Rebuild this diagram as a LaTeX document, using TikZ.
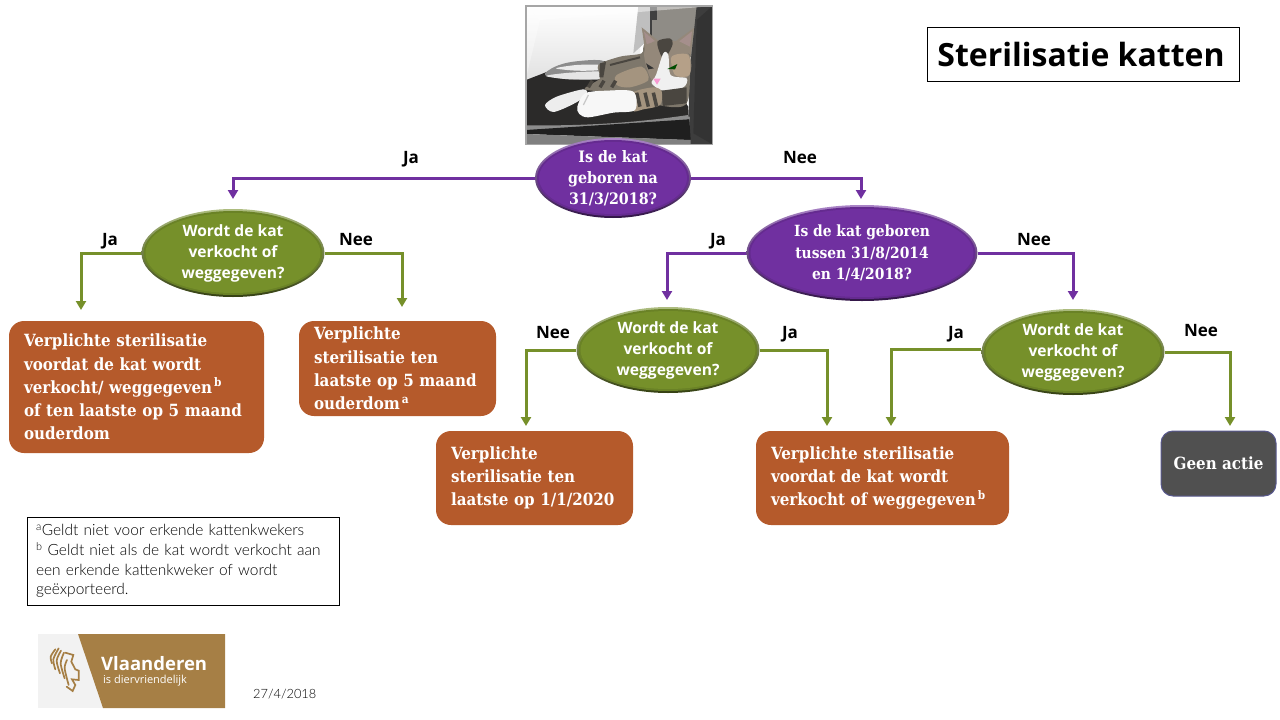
\documentclass[tikz,border=0pt]{standalone}
\usepackage{fontspec}
\setmainfont{Open Sans}
\newfontfamily\slabfont{DejaVu Serif}[FakeStretch=0.9]
\newfontfamily\notefont{Lato Light}
\usetikzlibrary{shapes.geometric,arrows.meta,calc}
\definecolor{katpaars}{HTML}{7030A0}
\definecolor{katgroen}{HTML}{76902A}
\definecolor{katbruin}{HTML}{B55A2B}
\definecolor{katgrijs}{HTML}{505050}
\definecolor{vlgoud}{HTML}{A67F45}
\definecolor{vacht}{HTML}{7E776B}
\definecolor{kopkleur}{HTML}{94887A}
\definecolor{wang}{HTML}{B5A088}
\definecolor{streep}{HTML}{4A4640}
\definecolor{leder}{HTML}{2B2A29}
\definecolor{paneel}{HTML}{8F8C86}
\definecolor{oorkleur}{HTML}{A58F8C}
\tikzset{
  bevel/.style={shade,top color=#1!60!white,bottom color=#1!45!black,path picture={
    \fill[#1!90!black] let \p1=(path picture bounding box.north east),\p2=(path picture bounding box.center) in (\p2) ellipse [x radius=\x1-\x2-2pt,y radius=\y1-\y2-2pt];
    \fill[#1] let \p1=(path picture bounding box.north east),\p2=(path picture bounding box.center) in (\p2) ellipse [x radius=\x1-\x2-4pt,y radius=\y1-\y2-4pt];
  }},
  vraagpaars/.style={ellipse,bevel=katpaars,inner sep=-12pt,align=center,text=white,font=\slabfont\bfseries\fontsize{15.4}{23}\selectfont},
  vraaggroen/.style={ellipse,bevel=katgroen,inner sep=-12pt,minimum width=183pt,minimum height=88pt,align=center,text=white,font=\bfseries\fontsize{15.6}{21}\selectfont},
  besluit/.style={rectangle,rounded corners=15pt,fill=katbruin,text=white,align=left,inner xsep=15pt,inner ysep=0pt,font=\slabfont\bfseries\fontsize{16.8}{23.2}\selectfont},
  antwoord/.style={font=\fontsize{17}{20}\selectfont\bfseries,text=black,inner sep=0pt,text height=12pt,text depth=0pt},
  pijlpaars/.style={draw=katpaars,line width=3pt,-{Triangle[length=9pt,width=10pt]}},
  pijlgroen/.style={draw=katgroen,line width=3pt,-{Triangle[length=9pt,width=10pt]}}
}
\begin{document}
\begin{tikzpicture}[x=1pt,y=-1pt]
\useasboundingbox (0,0) rectangle (1280,720);
% foto van de kat
\begin{scope}[shift={(520,0)},scale=1/3]
\begin{scope}
\clip (18,18) rectangle (577,433);
\shade[top color=white,bottom color=black!12] (18,18) rectangle (360,250);
% stoel
\fill[black!25] (355,18) -- (395,18) -- (395,110) -- (340,160) -- cycle;
\fill[black!75] (390,18) rectangle (410,110);
\fill[paneel] (395,60) rectangle (530,170);
\fill[paneel] (410,18) rectangle (530,60);
\fill[black!76] (530,18) -- (577,18) -- (577,433) -- (510,433) -- (505,250) -- cycle;
\fill[leder] (18,240) -- (75,218) -- (140,190) -- (400,175) -- (505,320) -- (510,420) -- (18,400) -- cycle;
\fill[black!45] (18,376) .. controls (200,378) and (350,368) .. (505,345) -- (508,358) .. controls (350,382) and (200,390) .. (18,390) -- cycle;
\fill[black!88] (18,390) -- (508,358) -- (512,420) -- (18,402) -- cycle;
\fill[black!50] (18,402) -- (512,420) -- (512,433) -- (18,433) -- cycle;
% deken
\fill[black!45] plot[smooth cycle] coordinates {(75,225) (105,200) (160,185) (250,183) (260,235) (150,238)};
\fill[white!92!black] plot[smooth cycle] coordinates {(108,205) (170,195) (240,195) (235,210) (170,212)};
\fill[white!90!black] plot[smooth cycle] coordinates {(78,228) (150,218) (250,215) (250,235) (150,238)};
% lijf
\fill[vacht] plot[smooth cycle] coordinates {(195,268) (240,235) (235,195) (300,170) (365,160) (380,130) (500,130) (510,200) (500,310) (430,318) (300,280)};
\fill[wang!70!vacht] plot[smooth cycle] coordinates {(290,225) (365,200) (385,240) (330,262) (290,255)};
\fill[streep] (240,190) -- (258,186) -- (250,232) -- (238,232) -- cycle;
\draw[streep,line width=2pt] (270,195) -- (360,172);
% oren
\fill[kopkleur] (375,150) -- (365,82) -- (418,125) -- cycle;
\fill[kopkleur] (465,125) -- (522,84) -- (512,165) -- cycle;
\fill[oorkleur] (380,132) -- (372,95) -- (408,126) -- cycle;
\fill[oorkleur] (478,124) -- (516,94) -- (510,140) -- cycle;
% kop
\fill[kopkleur] plot[smooth cycle] coordinates {(372,160) (400,125) (470,125) (510,170) (508,225) (450,265) (395,240)};
\fill[wang] plot[smooth cycle] coordinates {(455,170) (505,165) (508,225) (465,225)};
\fill[streep] plot[smooth cycle] coordinates {(412,125) (450,115) (458,132) (442,165) (425,170)};
\fill[white!94!black] plot[smooth cycle] coordinates {(430,160) (445,165) (452,225) (500,235) (490,262) (430,272) (395,250) (408,225)};
\fill[black!70!green] (442,207) -- (472,192) -- (465,208) -- cycle;
\fill[black!80] (378,190) -- (402,205) -- (385,208) -- cycle;
\fill[magenta!40!white] (400,236) -- (422,236) -- (411,254) -- cycle;
\foreach \strx in {205,240,275}{
  \draw[streep,line width=3.5pt] (\strx,262) -- ++(12,-20);
}
\fill[streep] (425,272) -- (500,262) -- (500,310) -- (428,318) -- cycle;
% poten
\fill[white!93!black] plot[smooth cycle] coordinates {(75,315) (110,290) (190,268) (200,285) (160,312) (100,336)};
\fill[wang!70!vacht] plot[smooth cycle] coordinates {(335,280) (400,262) (425,275) (420,315) (370,328) (338,332)};
\foreach \strx in {350,375,400}{
  \draw[streep,line width=3.5pt] (\strx,278) -- ++(10,42);
}
\fill[white!97!black] plot[smooth cycle] coordinates {(172,320) (195,280) (260,272) (340,275) (345,330) (280,338) (205,352) (178,342)};
\draw[black!22,line width=1.2pt] (205,285) -- (190,315);
\end{scope}
% rand
\fill[white,opacity=.45] (18,18) -- (577,18) -- (530,22) -- (60,60) -- cycle;
\fill[white,opacity=.35] (18,18) -- (60,60) -- (18,235) -- cycle;
\fill[black,opacity=.15] (577,18) -- (530,60) -- (520,400) -- (577,433) -- cycle;
\draw[black!35,line width=1.5pt] (18,18) rectangle (577,433);
\end{scope}
% titel
\node[rectangle,draw=black,line width=.8pt,minimum width=312pt,minimum height=54pt,font=\bfseries\fontsize{32}{36}\selectfont] (titel) at (1083,54) {\hspace{-4pt}Sterilisatie katten};
% vragen
\node[vraagpaars,minimum width=156pt,minimum height=80pt,font=\slabfont\bfseries\fontsize{15.8}{21}\selectfont] (kat1) at (613,178) {Is de kat\\geboren na\\31/3/2018?};
\node[vraaggroen] (kat2) at (233,253) {Wordt de kat\\verkocht of\\weggegeven?};
\node[vraagpaars,minimum width=231pt,minimum height=96pt,font=\slabfont\bfseries\fontsize{15.4}{21.5}\selectfont] (kat3) at (862,253) {Is de kat geboren\\tussen 31/8/2014\\en 1/4/2018?};
\node[vraaggroen,minimum height=86pt] (kat4) at (668,350) {Wordt de kat\\verkocht of\\weggegeven?};
\node[vraaggroen,minimum height=86pt] (kat5) at (1073,352) {Wordt de kat\\verkocht of\\weggegeven?};
% besluiten
\node[besluit,minimum width=255pt,minimum height=132pt,text width=225pt] (uit1) at (136.5,387) {Verplichte sterilisatie\\voordat de kat wordt\\verkocht/ weggegeven\textsuperscript{\,b}\\of ten laatste op 5 maand\\ouderdom};
\node[besluit,minimum width=197pt,minimum height=95pt,text width=167pt] (uit2) at (397.5,368.5) {Verplichte\\sterilisatie ten\\laatste op 5 maand\\ouderdom\textsuperscript{\,a}};
\node[besluit,minimum width=197pt,minimum height=94pt,text width=167pt] (uit3) at (534.5,478) {Verplichte\\sterilisatie ten\\laatste op 1/1/2020};
\node[besluit,minimum width=253pt,minimum height=94pt,text width=223pt] (uit4) at (882.5,478) {Verplichte sterilisatie\\voordat de kat wordt\\verkocht of weggegeven\textsuperscript{\,b}};
\node[besluit,fill=katgrijs,draw=black!30!blue!30!gray,line width=1pt,rounded corners=12pt,inner xsep=0pt,align=center,minimum width=115pt,minimum height=65pt] (uit5) at (1218.5,463.5) {Geen actie};
% eindpunten van de pijlen
\coordinate (p1) at (233,199);
\coordinate (p2) at (861,199);
\coordinate (p3) at (81,310);
\coordinate (p4) at (402,307);
\coordinate (p5) at (667,300);
\coordinate (p6) at (1073,300);
\coordinate (p7) at (526,426);
\coordinate (p8) at (827,426);
\coordinate (p9) at (891,426);
\coordinate (p10) at (1230,426);
% pijlen
\draw[pijlpaars] (kat1.west) -| (p1);
\draw[pijlpaars] (kat1.east) -| (p2);
\draw[pijlgroen] (kat2.west) -| (p3);
\draw[pijlgroen] (kat2.east) -| (p4);
\draw[pijlpaars] (kat3.west) -| (p5);
\draw[pijlpaars] (kat3.east) -| (p6);
\draw[pijlgroen] (kat4.west) -| (p7);
\draw[pijlgroen] (kat4.east) -| (p8);
\draw[pijlgroen] ([yshift=3pt]kat5.west) -| (p9);
\draw[pijlgroen] (kat5.east) -| (p10);
% antwoorden
\node[antwoord] (ant1) at (411,157) {Ja};
\node[antwoord] (ant2) at (800,157) {Nee};
\node[antwoord] (ant3) at (110,239) {Ja};
\node[antwoord] (ant4) at (356,239) {Nee};
\node[antwoord] (ant5) at (718,239) {Ja};
\node[antwoord] (ant6) at (1034,239) {Nee};
\node[antwoord] (ant7) at (553,332) {Nee};
\node[antwoord] (ant8) at (790,332) {Ja};
\node[antwoord] (ant9) at (956,332) {Ja};
\node[antwoord] (ant10) at (1201,330) {Nee};
% voetnoot
\node[rectangle,draw=black,line width=.8pt,minimum width=312pt,minimum height=88pt,text width=294pt,inner xsep=9pt,inner ysep=0pt,align=left,font=\notefont\fontsize{15.5}{19.8}\selectfont] (noot) at (183,561) {\textsuperscript{a}Geldt niet voor erkende kattenkwekers\\\textsuperscript{b} Geldt niet als de kat wordt verkocht aan\\een erkende kattenkweker of wordt\\geëxporteerd.};
% logo
\fill[black!5!white] (38,634) rectangle (225,708);
\fill[vlgoud] (78,634) -- (225,634) -- (225,708) -- (103,708) -- cycle;
\begin{scope}[shift={(36,630)},scale=1/3,vlgoud,line width=1.7pt,line cap=round]
\draw plot[smooth] coordinates {(58,58) (44,80) (48,100)};
\draw plot[smooth] coordinates {(68,55) (52,88) (58,118)};
\draw plot[smooth] coordinates {(75,62) (62,92) (72,130)};
\draw plot[smooth] coordinates {(84,68) (74,100) (86,145)};
\draw plot[smooth] coordinates {(93,90) (86,115) (98,165)};
\draw (88,68) -- (112,75) -- (106,95) -- (118,118) -- (128,122) -- (128,150) -- (108,148) -- (118,165) -- (110,183) -- (92,170);
\end{scope}
\node[anchor=west,inner sep=0pt,text=white,font=\bfseries\fontsize{18.5}{22}\selectfont] (vlaanderen) at (101,664) {Vlaanderen};
\node[anchor=west,inner sep=0pt,text=white,font=\fontsize{11}{12}\selectfont] (dier) at (103,681) {is diervriendelijk};
\node[anchor=west,inner sep=0pt,font=\notefont\fontsize{12.8}{16}\selectfont] (datum) at (253,694) {27/4/2018};
\end{tikzpicture}
\end{document}
